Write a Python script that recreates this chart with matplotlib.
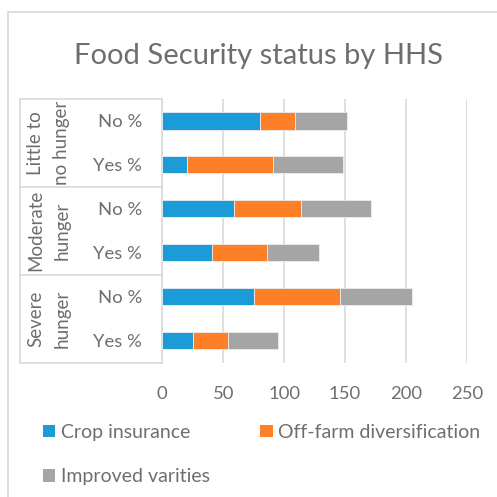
import matplotlib
matplotlib.use("Agg")
import matplotlib.pyplot as plt
from matplotlib.patches import Rectangle, Patch
from matplotlib.lines import Line2D
import matplotlib.transforms as mtrans

plt.rcParams['font.family'] = ['Lato', 'DejaVu Sans']

groups = [["Little to", "no hunger"], ["Moderate", "hunger"], ["Severe", "hunger"]]
categories = ["No %", "Yes %", "No %", "Yes %", "No %", "Yes %"]
series_names = ["Crop insurance", "Off-farm diversification", "Improved varities"]
crop_insurance = [80, 20, 59, 41, 75, 25]
off_farm = [29, 71, 55, 45, 71, 29]
improved = [43, 57, 57, 43, 59, 41]
x_ticks = [0, 50, 100, 150, 200, 250]

colors = ['#1B9BD7', '#FD7F28', '#A5A5A5']
text_color = '#6E6E6E'
grid_color = '#D9D9D9'

W = H = 497
fig = plt.figure(figsize=(W / 100, H / 100), dpi=100)

def fx(px):
    return px / W

def fy(py):
    return 1 - py / H

# chart border
fig.patches.append(Rectangle((fx(8), -0.1), 1.2, fy(12) + 0.1, transform=fig.transFigure,
                             fill=False, edgecolor=grid_color, linewidth=1.2, zorder=0))

ax_left, ax_right, ax_top, ax_bottom = 162.3, 466.8, 99, 362.5
ax = fig.add_axes([fx(ax_left), fy(ax_bottom), fx(ax_right - ax_left), fy(ax_top) - fy(ax_bottom)])

ypos = list(range(len(categories)))
series = [crop_insurance, off_farm, improved]
left = [0] * len(categories)
handles = []
for vals, c, name in zip(series, colors, series_names):
    ax.barh(ypos, vals, left=left, height=0.39, color=c, edgecolor='#EDEDED', linewidth=0.6, zorder=3)
    left = [l + v for l, v in zip(left, vals)]
    handles.append(Patch(facecolor=c, edgecolor='none', label=name))

ax.set_xlim(0, 250)
ax.set_ylim(len(categories) - 0.5, -0.5)
ax.set_xticks(x_ticks)
ax.set_xticklabels([str(t) for t in x_ticks])
ax.set_yticks(ypos)
ax.set_yticklabels(categories)
ax.tick_params(axis='both', length=0, colors=text_color, labelsize=13.3)
ax.tick_params(axis='x', pad=17)
ax.tick_params(axis='y', pad=14.5)
ax.xaxis.grid(True, color=grid_color, linewidth=1.2, zorder=0)
ax.set_axisbelow(True)
for s in ['top', 'right', 'bottom']:
    ax.spines[s].set_visible(False)
ax.spines['left'].set_color(grid_color)
ax.spines['left'].set_linewidth(1.2)

# multi-level category table
trans = mtrans.blended_transform_factory(ax.transAxes, ax.transData)
def axx(px):
    return (px - ax_left) / (ax_right - ax_left)
x_tab = axx(20)
for yb in [-0.5, 1.5, 3.5, 5.5]:
    ax.add_line(Line2D([x_tab, 0], [yb, yb], transform=trans, color=grid_color,
                       linewidth=1.2, clip_on=False))
ax.add_line(Line2D([x_tab, x_tab], [-0.5, 5.5], transform=trans, color=grid_color,
                   linewidth=1.2, clip_on=False))
for i, (l1, l2) in enumerate(groups):
    for line, xp in zip((l1, l2), (35.5, 62)):
        ax.text(axx(xp), 2 * i + 0.5, line, transform=trans, rotation=90, ha='center',
                va='center', color=text_color, fontsize=13.5)

fig.text(fx(258), fy(56), "Food Security status by HHS", ha='center', va='center',
         color=text_color, fontsize=21)

leg = fig.legend([handles[0], handles[2], handles[1]],
                 [series_names[0], series_names[2], series_names[1]],
                 ncol=2, loc='upper left', bbox_to_anchor=(fx(43), fy(424)),
                 frameon=False, fontsize=14, handlelength=0.62, handleheight=0.62,
                 handletextpad=0.3, columnspacing=2.6, labelspacing=1.4, borderpad=0,
                 borderaxespad=0)
for t in leg.get_texts():
    t.set_color(text_color)

fig.savefig("out.png", dpi=100)
